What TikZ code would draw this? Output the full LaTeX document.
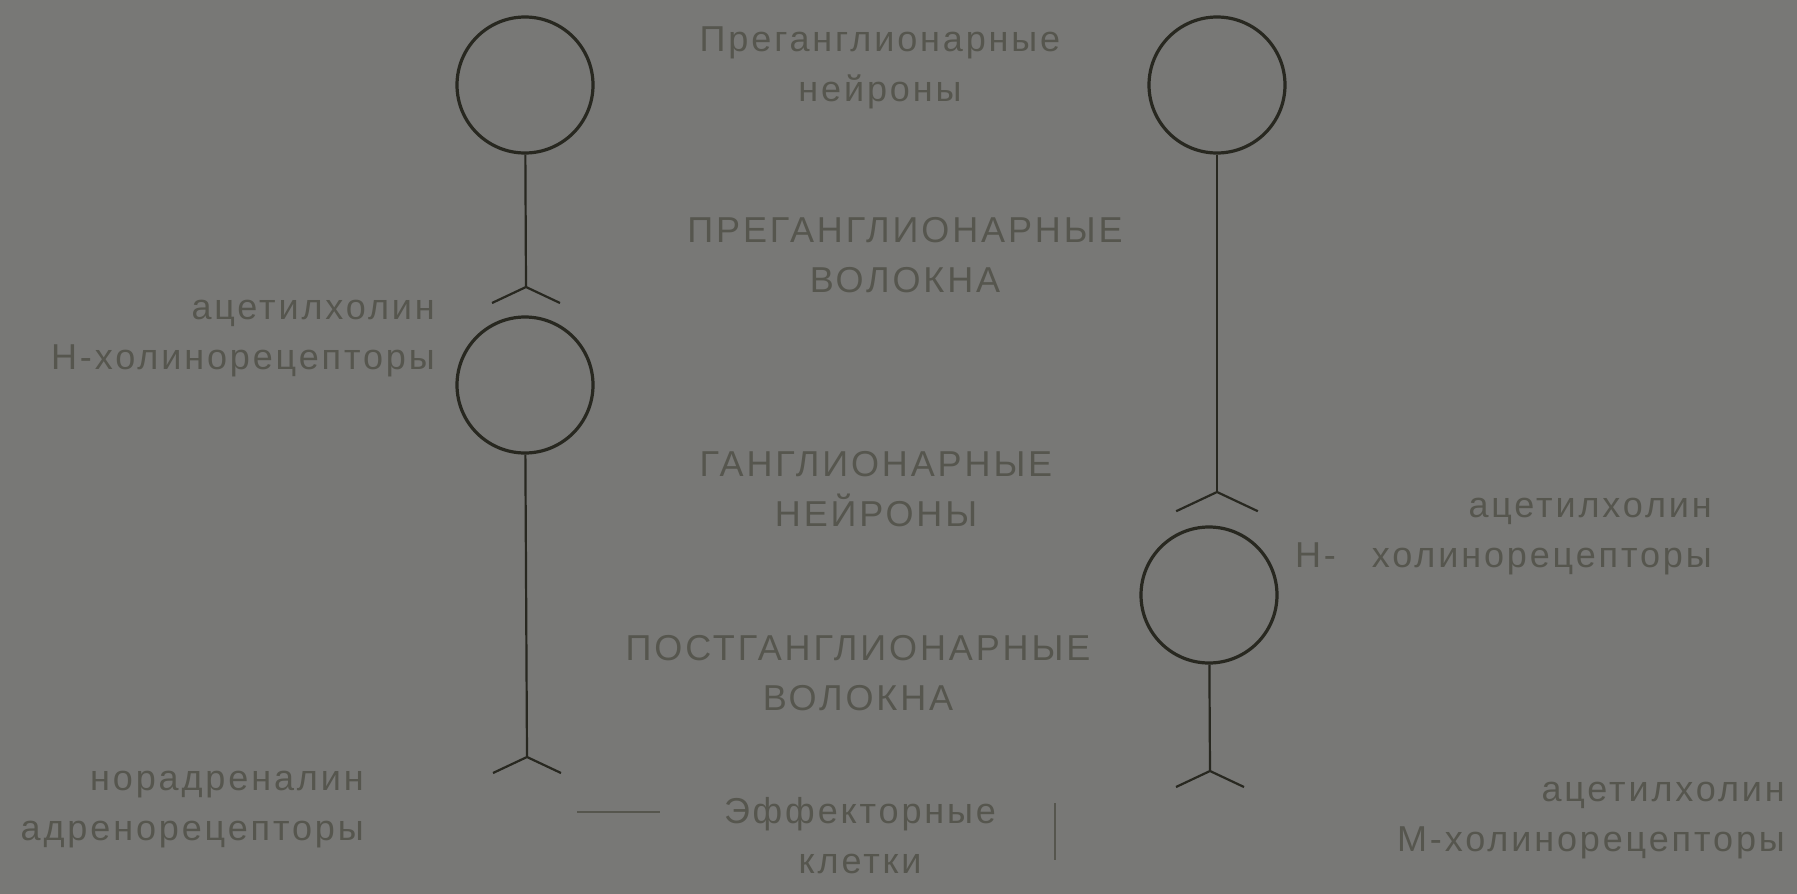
\documentclass[tikz,border=0pt]{standalone}
\usepackage{fontspec}
\setmainfont[LetterSpace=8]{Liberation Sans}
\usepackage{xcolor}
\usetikzlibrary{positioning}

\definecolor{bgcol}{RGB}{120,120,118}
\definecolor{inkcol}{RGB}{40,40,32}
\definecolor{txtcol}{RGB}{86,86,78}

\begin{document}
\begin{tikzpicture}[
  x=1pt, y=-1pt,
  neuron/.style={draw=inkcol, circle, line width=3.2pt, minimum size=136pt, inner sep=0pt},
  fiber/.style={draw=inkcol, line width=2.2pt},
  label/.style={text=txtcol, inner sep=0pt, font=\fontsize{36}{50}\selectfont},
  synapse/.pic={\draw[fiber] (-34,16) -- (0,0) -- (34,16);}
]
\fill[bgcol] (0,0) rectangle (1797,894);
\useasboundingbox (0,0) rectangle (1797,894);

% neurons
\node[neuron] (lpre) at (525,85) {};
\node[neuron] (lgang) at (525,385) {};
\node[neuron] (rpre) at (1217,85) {};
\node[neuron] (rgang) at (1209,595) {};

% synapse points
\coordinate (lsyn) at (526,287);
\coordinate (leff) at (527,757);
\coordinate (rsyn) at (1217,492);
\coordinate (reff) at (1210,771);

\draw[fiber] (lpre) -- (lsyn);
\draw[fiber] (lgang) -- (leff);
\draw[fiber] (rpre) -- (rsyn);
\draw[fiber] (rgang) -- (reff);

\pic at (lsyn) {synapse};
\pic at (leff) {synapse};
\pic[scale=1.2] at (rsyn) {synapse};
\pic at (reff) {synapse};

% middle column
\node[label, align=center] (tprenrn) at (880,68) {Преганглионарные\\нейроны};
\node[label, align=center] (tprefib) at (905,255) {ПРЕГАНГЛИОНАРНЫЕ\\ВОЛОКНА};
\node[label, align=center] (tgang) at (876,489) {ГАНГЛИОНАРНЫЕ\\НЕЙРОНЫ};
\node[label, align=center] (tpostfib) at (858,673) {ПОСТГАНГЛИОНАРНЫЕ\\ВОЛОКНА};
\node[label, align=center] (teff) at (860,836) {Эффекторные\\клетки};

% receptors
\node[label, align=right, anchor=east] (tlgang) at (435,339) {ацетилхолин\\Н-холинорецепторы};
\node[label, align=right, anchor=east] (trgang) at (1712,537) {ацетилхолин\\Н-\quad холинорецепторы};
\node[label, align=right, anchor=east] (tleff) at (364,810) {норадреналин\\адренорецепторы};
\node[label, align=right, anchor=east] (treff) at (1785,821) {ацетилхолин\\М-холинорецепторы};

% marks beside effector label
\coordinate (hmarka) at (577,812);
\coordinate (hmarkb) at (660,812);
\coordinate (vmarka) at (1055,803);
\coordinate (vmarkb) at (1055,860);
\draw[txtcol, line width=1.4pt] (hmarka) -- (hmarkb);
\draw[txtcol, line width=1.4pt] (vmarka) -- (vmarkb);
\end{tikzpicture}
\end{document}
